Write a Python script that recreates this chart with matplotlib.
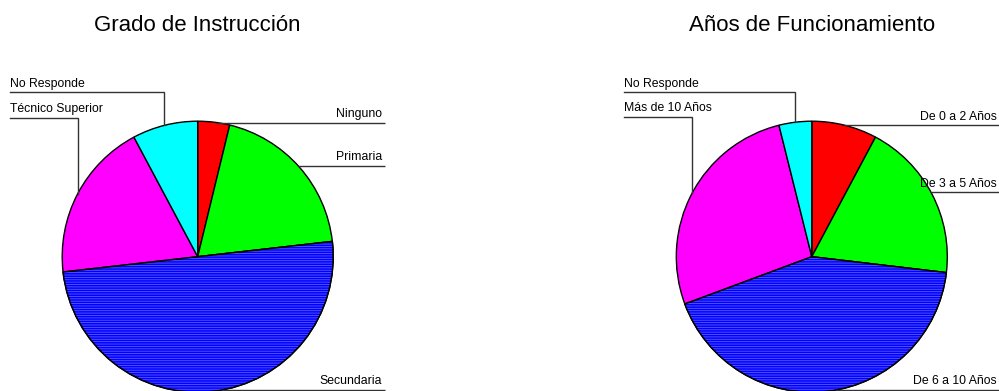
import numpy as np
import matplotlib
matplotlib.use("Agg")
import matplotlib.pyplot as plt
from matplotlib.patches import Wedge

plt.rcParams['font.family'] = ['Liberation Sans', 'DejaVu Sans']
plt.rcParams['hatch.linewidth'] = 0.6

# ---------------- data ----------------
titles = ["Grado de Instrucción", "Años de Funcionamiento"]

labels_left = ["Ninguno", "Primaria", "Secundaria", "Técnico Superior", "No Responde"]
values_left = [3.8, 19.4, 50.0, 19.0, 7.8]

labels_right = ["De 0 a 2 Años", "De 3 a 5 Años", "De 6 a 10 Años", "Más de 10 Años", "No Responde"]
values_right = [7.8, 19.1, 42.5, 26.8, 3.9]

colors = ["#ff0000", "#00ff00", "#0000ff", "#ff00ff", "#00ffff"]

# ---------------- layout (pixel units, y from top) ----------------
W, H = 999, 391
R = 135.5
centers = [(197.7, 256.7), (811.8, 256.7)]
right_end = [385, 1000]
# per label: (side, line_y, vertical_x)
layouts = [
    [("r", 122.5, None), ("r", 166.0, None), ("r", 390.0, None),
     ("l", 117.5, 77.7), ("l", 92.3, 164.0)],
    [("r", 125.0, None), ("r", 192.3, None), ("r", 390.0, None),
     ("l", 116.7, 692.3), ("l", 92.3, 795.0)],
]


def Y(p):
    return H - p


fig = plt.figure(figsize=(W / 100, H / 100), dpi=100)
ax = fig.add_axes([0, 0, 1, 1])

for k, (vals, labs) in enumerate([(values_left, labels_left), (values_right, labels_right)]):
    cx, cy = centers[k]
    wedges, _ = ax.pie(vals, colors=colors, startangle=90, counterclock=False,
                       center=(cx, Y(cy)), radius=R, frame=True,
                       wedgeprops=dict(edgecolor="black", linewidth=1.0))
    # texture on blue slice
    w = wedges[2]
    tex = Wedge(w.center, w.r, w.theta1, w.theta2, facecolor="none",
                edgecolor="#5c5cff", linewidth=0, hatch="-------")
    ax.add_patch(tex)
    outline = Wedge(w.center, w.r, w.theta1, w.theta2, facecolor="none",
                    edgecolor="black", linewidth=1.0)
    ax.add_patch(outline)

    ax.text(cx, Y(31), titles[k], ha="center", va="baseline", fontsize=16)

    for lab, (side, ly, vx) in zip(labs, layouts[k]):
        if side == "r":
            dy = abs(ly - cy)
            xs = cx + np.sqrt(max(R ** 2 - dy ** 2, 0))
            xe = right_end[k]
            ax.plot([xs, xe], [Y(ly), Y(ly)], color="#333333", lw=1.0,
                    solid_capstyle="butt")
            ax.text(xe - 3, Y(ly - 5.5), lab, ha="right", va="baseline",
                    fontsize=8.8)
        else:
            x0 = 10 if k == 0 else 624
            dx = abs(vx - cx)
            yb = cy - np.sqrt(max(R ** 2 - dx ** 2, 0))
            ax.plot([x0, vx, vx], [Y(ly), Y(ly), Y(yb)], color="#333333",
                    lw=1.0, solid_joinstyle="miter")
            ax.text(x0, Y(ly - 5.5), lab, ha="left", va="baseline",
                    fontsize=8.8)

ax.set_xlim(0, W)
ax.set_ylim(0, H)
ax.set_aspect("equal")
ax.axis("off")

fig.savefig("out.png", dpi=100, facecolor="white")
